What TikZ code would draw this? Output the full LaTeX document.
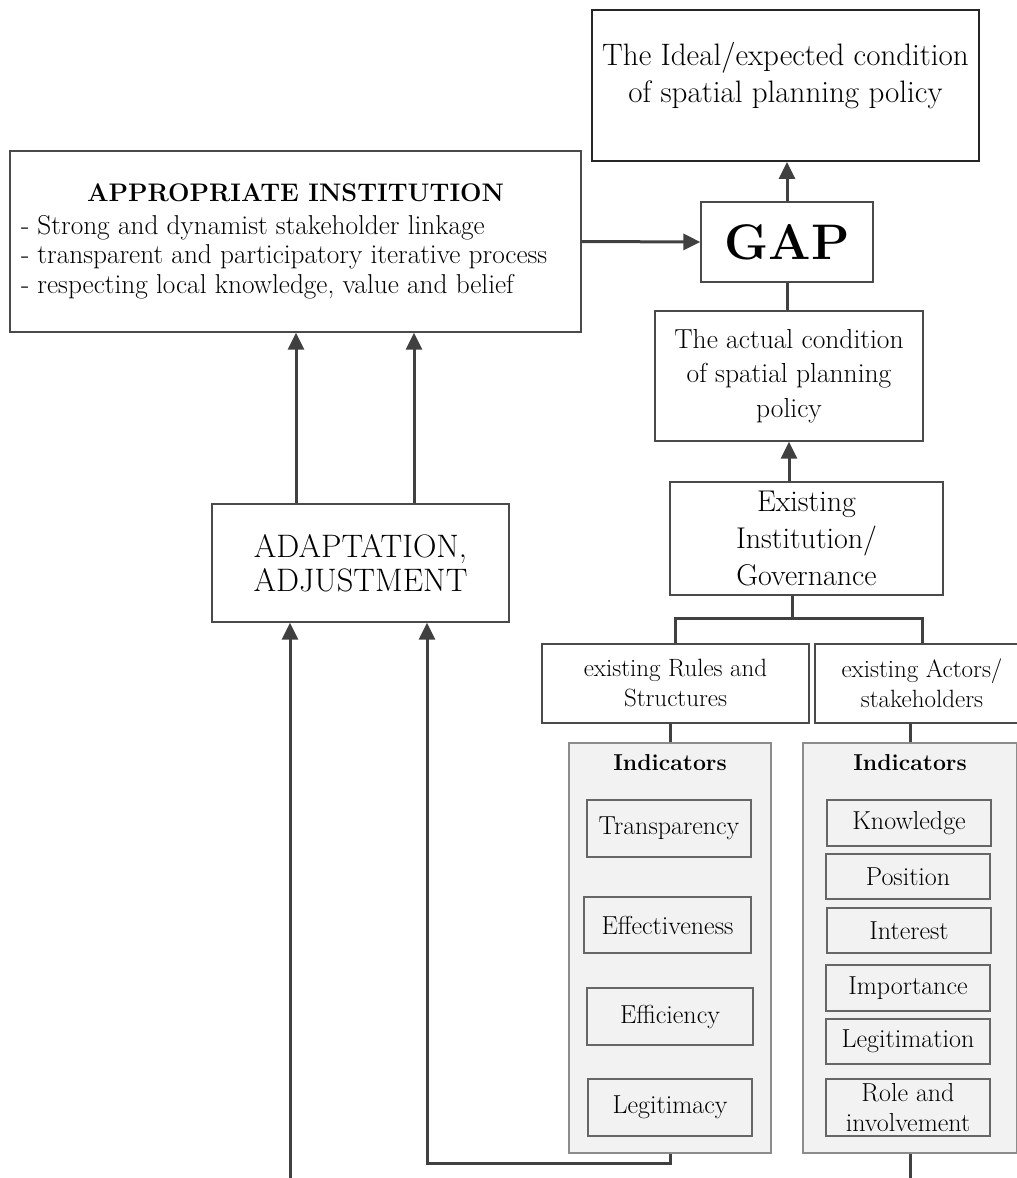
\documentclass[tikz,border=0pt]{standalone}
\usepackage{fontspec}
\usepackage{tikz}
\usetikzlibrary{arrows.meta,positioning}
\definecolor{linegray}{HTML}{404040}
\definecolor{framegray}{HTML}{4A4A4A}
\definecolor{itemgray}{HTML}{666666}
\definecolor{panelgray}{HTML}{8C8C8C}
\definecolor{panelfill}{HTML}{F2F2F2}
\tikzset{
  mainbox/.style={draw=framegray, line width=1.3pt, fill=white, align=center, inner sep=4pt},
  panelbox/.style={draw=panelgray, line width=1.5pt, fill=panelfill},
  headtext/.style={inner sep=0pt, font=\fontsize{23}{27}\selectfont\bfseries},
  itembox/.style={draw=itemgray, line width=1.2pt, fill=panelfill, align=center, inner sep=1pt, font=\fontsize{26}{30}\selectfont},
  link/.style={draw=linegray, line width=3pt},
  arrow/.style={link, -{Triangle[length=17pt, width=16pt]}}
}
\begin{document}
\begin{tikzpicture}[x=1pt, y=-1pt]
  \useasboundingbox (0,0) rectangle (1017,1178);
  % top of the chain
  \node[mainbox, draw=black!85, line width=1.8pt, minimum width=387pt, minimum height=151pt, font=\fontsize{31}{37}\selectfont] (ideal) at (785.5,85.5) {The Ideal/expected condition\\of spatial planning policy\\[-10pt]\mbox{}};
  \node[mainbox, minimum width=172pt, minimum height=80pt, font=\fontsize{50}{56}\selectfont\bfseries] (gap) at (787,242) {GAP};
  \node[mainbox, align=left, inner xsep=11pt, minimum width=571pt, minimum height=181pt, font=\fontsize{27.3}{29.5}\selectfont] (approp) at (295.5,241.5) {\makebox[549pt]{\fontsize{25.4}{29.5}\selectfont\bfseries APPROPRIATE INSTITUTION}\\[3pt]- Strong and dynamist stakeholder linkage\\- transparent and participatory iterative process\\- respecting local knowledge, value and belief};
  \node[mainbox, minimum width=268pt, minimum height=130pt, font=\fontsize{27.5}{34.5}\selectfont] (actual) at (789,376) {The actual condition\\of spatial planning\\policy};
  \node[mainbox, minimum width=273pt, minimum height=113pt, font=\fontsize{30}{37}\selectfont] (exist) at (806.5,538.5) {Existing\\Institution/\\Governance};
  \node[mainbox, minimum width=297pt, minimum height=118pt, font=\fontsize{32.5}{34}\selectfont] (adapt) at (360.5,563) {ADAPTATION,\\ADJUSTMENT};
  \node[mainbox, minimum width=267pt, minimum height=79pt, font=\fontsize{25}{30}\selectfont] (rules) at (675.5,683.5) {existing Rules and\\Structures};
  \node[mainbox, minimum width=214pt, minimum height=79pt, font=\fontsize{25}{30}\selectfont] (actors) at (922,683.5) {existing Actors/\\stakeholders};

  % indicator panels
  \node[panelbox, minimum width=202pt, minimum height=410pt] (rulespanel) at (670,948) {};
  \node[panelbox, minimum width=214pt, minimum height=410pt] (actorspanel) at (910,948) {};
  \node[headtext, below=12pt of rulespanel.north] (rulestitle) {Indicators};
  \node[headtext, below=12pt of actorspanel.north] (actorstitle) {Indicators};

  \node[itembox, minimum width=164pt, minimum height=57pt] (transp) at (669,828.5) {Transparency};
  \node[itembox, minimum width=167pt, minimum height=56pt] (effect) at (667.5,925) {Effectiveness};
  \node[itembox, minimum width=166pt, minimum height=57pt] (effic) at (670,1016.5) {Efficiency};
  \node[itembox, minimum width=164pt, minimum height=57pt] (legitim) at (670,1107.5) {Legitimacy};

  \node[itembox, minimum width=164pt, minimum height=46pt] (knowl) at (909,823) {Knowledge};
  \node[itembox, minimum width=164pt, minimum height=45pt] (posit) at (908,876.5) {Position};
  \node[itembox, minimum width=164pt, minimum height=45pt] (inter) at (909,930.5) {Interest};
  \node[itembox, minimum width=164pt, minimum height=46pt] (import) at (908,988) {Importance};
  \node[itembox, minimum width=164pt, minimum height=45pt] (legit) at (908,1041.5) {Legitimation};
  \node[itembox, minimum width=164pt, minimum height=57pt] (role) at (908,1107.5) {Role and\\involvement};

  % connectors
  \draw[arrow] (gap.north) -- (gap.north |- ideal.south);
  \draw[arrow] (approp.east) -- (gap.west);
  \draw[link] (gap.south) -- (gap.south |- actual.north);
  \draw[arrow] (actual.south |- exist.north) -- (actual.south);
  \coordinate (split) at (792,618);
  \draw[link] (exist.south -| split) -- (split);
  \draw[link] (rules.north) |- (split) -| (actors.north);
  \draw[link] (rulespanel.north |- rules.south) -- (rulespanel.north);
  \draw[link] (actorspanel.north |- actors.south) -- (actorspanel.north);

  \draw[arrow] ([xshift=-64.5pt]adapt.north) -- ([xshift=-64.5pt]adapt.north |- approp.south);
  \draw[arrow] ([xshift=53.5pt]adapt.north) -- ([xshift=53.5pt]adapt.north |- approp.south);

  \coordinate (inflow) at (290,1178);
  \draw[arrow] (inflow) -- (inflow |- adapt.south);
  \coordinate (loopback) at (427,1163);
  \draw[arrow] (rulespanel.south) |- (loopback) -- (loopback |- adapt.south);
  \coordinate (outflow) at (910,1178);
  \draw[link] (actorspanel.south) -- (outflow);
\end{tikzpicture}
\end{document}
